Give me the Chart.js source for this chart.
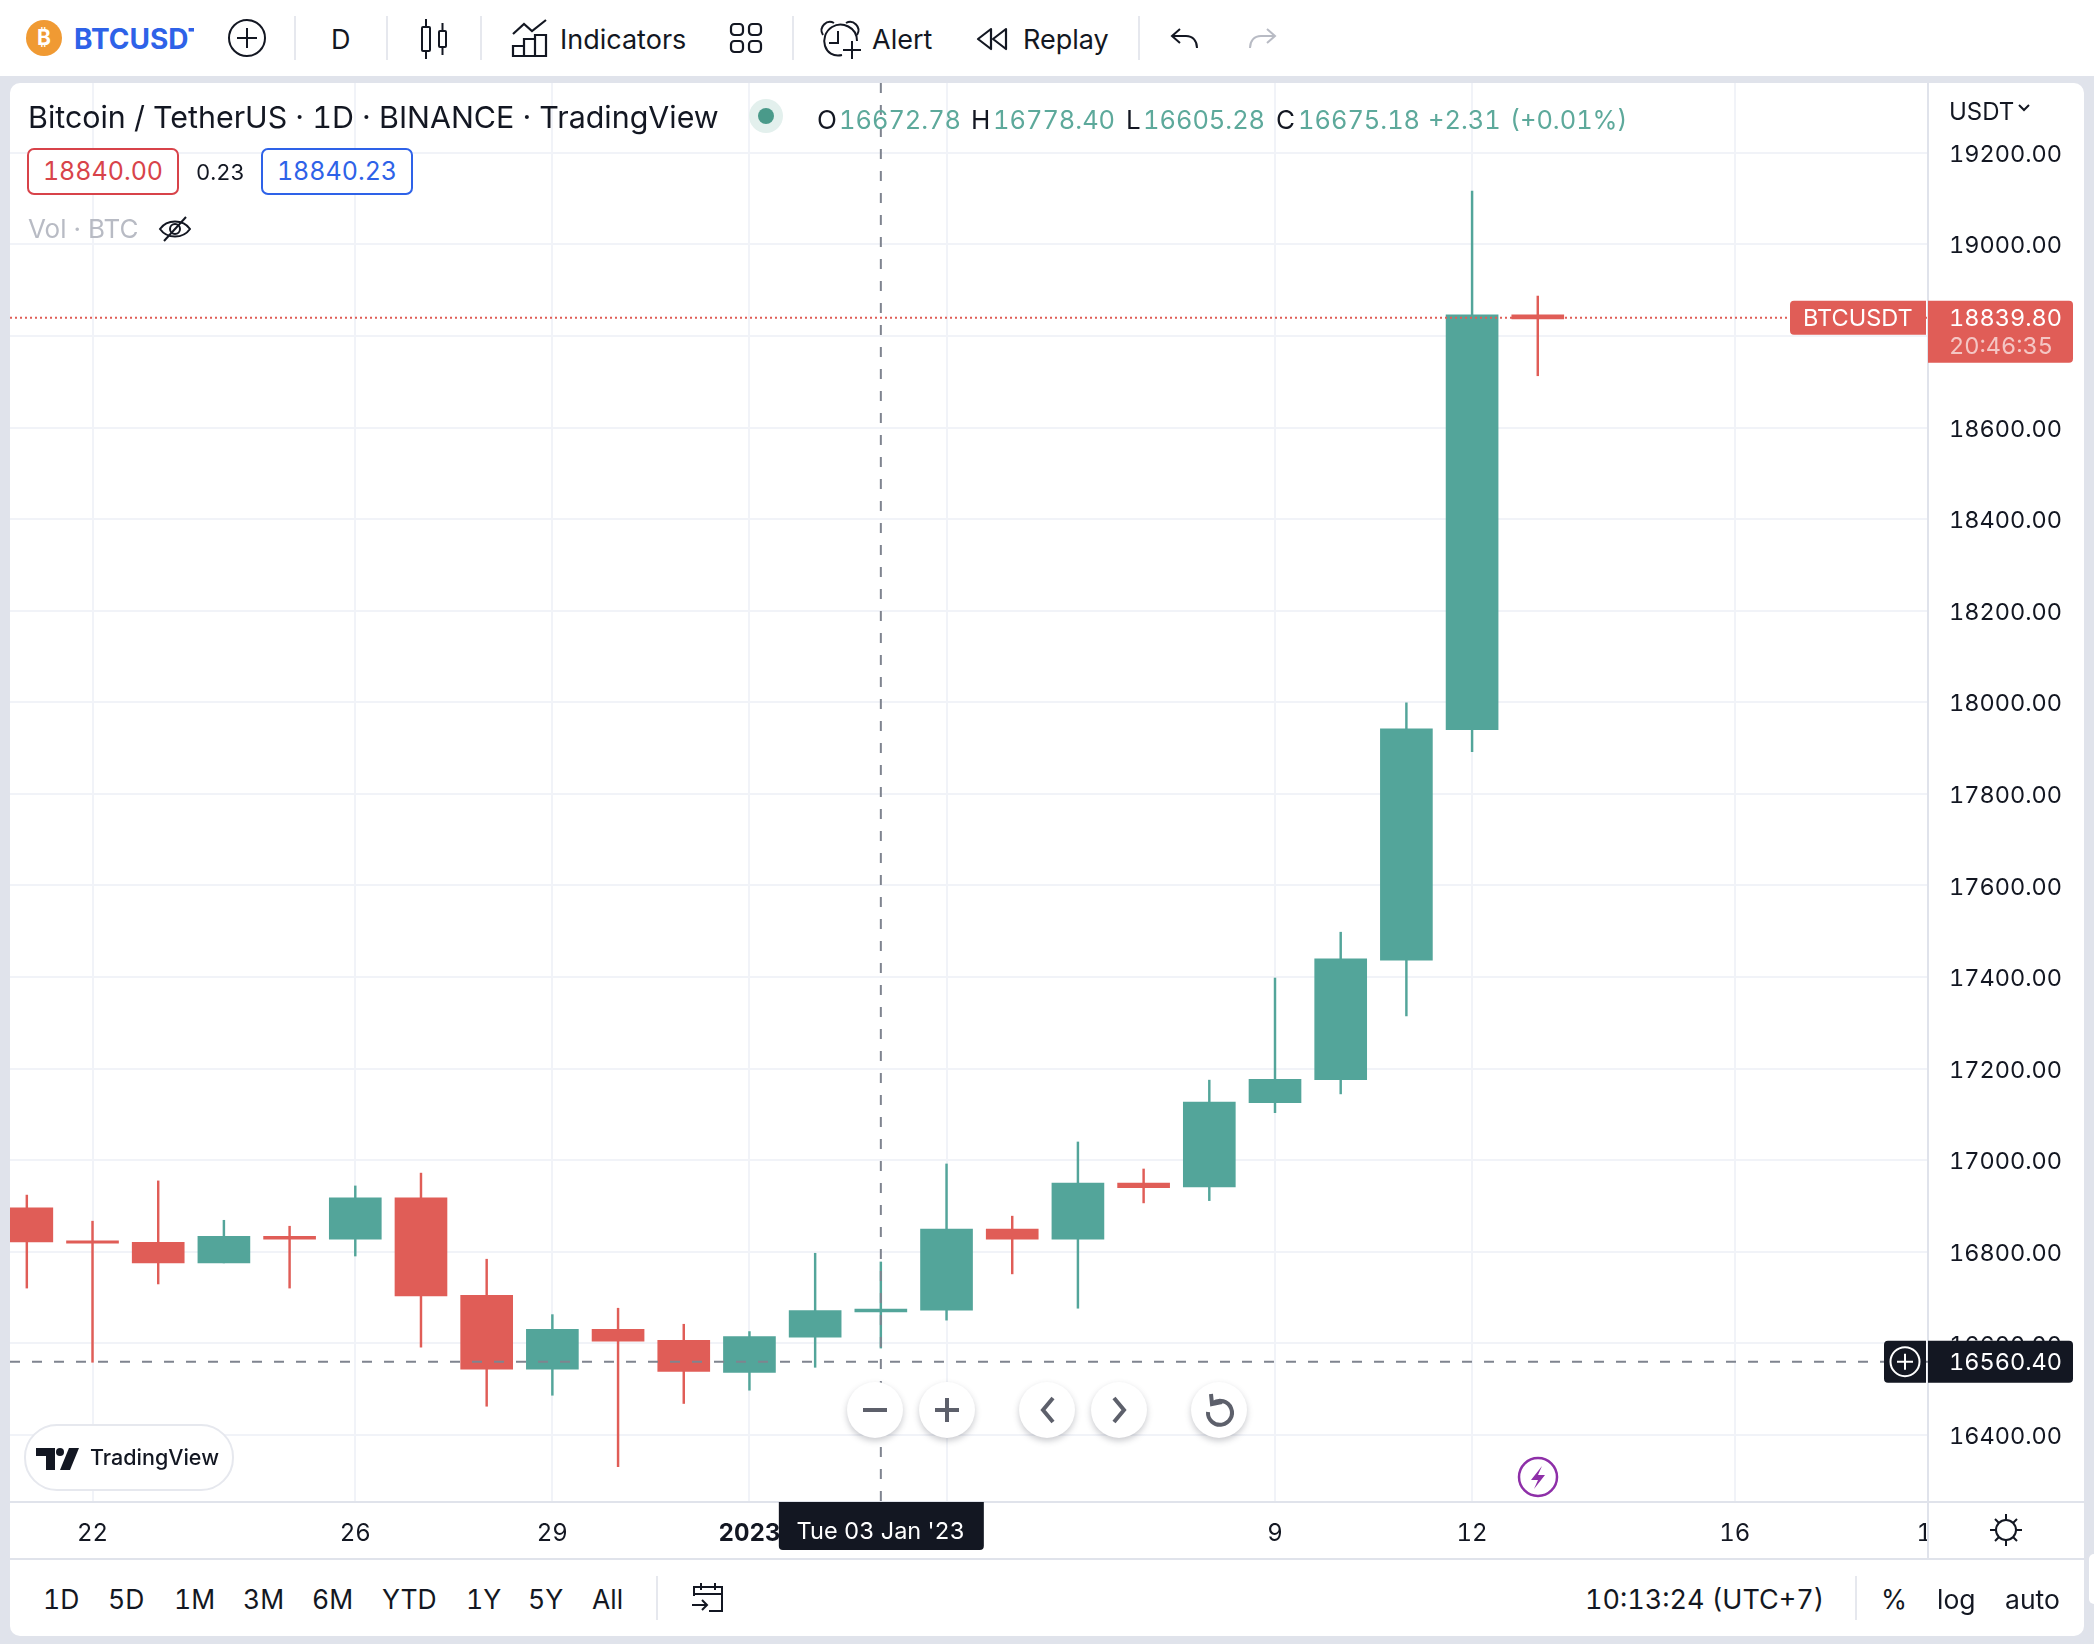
<!DOCTYPE html>
<html>
<head>
<meta charset="utf-8">
<title>BTCUSDT</title>
<script src="https://cdn.jsdelivr.net/npm/chart.js@4"></script>
<style>
  html, body { margin: 0; padding: 0; width: 2094px; height: 1646px; overflow: hidden; background: #fff; font-family: Inter, sans-serif; color: #131722; font-variant-numeric: tabular-nums; }
  #band { position: absolute; left: 0; top: 76px; width: 2094px; height: 1568px; background: #e0e3eb; }
  #panel { position: absolute; left: 10px; top: 83px; width: 2074px; height: 1553px; background: #fff; border-radius: 10px; overflow: hidden; }
  #panel canvas { position: absolute; left: 0; top: 0; }
  .t { position: absolute; transform: translateY(-50%); white-space: nowrap; line-height: 1; }
  .tool { font-size: 27px; }
  .sep { position: absolute; width: 2px; background: #e6e8ee; }
  .range { font-size: 26.5px; }
  .ohlc { font-size: 25.4px; color: #5da99b; }
  .ohlc-k { font-size: 26px; color: #131722; }
  .box { position: absolute; box-sizing: border-box; height: 47px; top: 148px; border: 2px solid; border-radius: 7px; font-size: 25px; line-height: 43px; text-align: center; background: #fff; }
  svg { position: absolute; overflow: visible; }
  .btn { position: absolute; width: 56px; height: 56px; top: 1382px; border-radius: 50%; background: #fff; box-shadow: 0 3px 6px rgba(60,65,80,.28); }
</style>
</head>
<body>
<div id="band"></div>
<div id="panel">
  <canvas id="myChart" width="2074" height="1475"></canvas>
</div>

<!-- top toolbar -->
<svg style="left:26px;top:20px" width="36" height="36"><circle cx="18" cy="18" r="18" fill="#f09a33"/><text x="18" y="25" font-family="Inter" font-weight="700" font-size="21" fill="#fff" text-anchor="middle">₿</text></svg>
<div class="t" style="left:74px;top:39px;width:120px;overflow:hidden;font-size:28px;font-weight:700;color:#2e62e8;height:34px;line-height:34px">BTCUSDT</div>
<svg style="left:228px;top:19px" width="38" height="38" fill="none" stroke="#131722" stroke-width="2"><circle cx="19" cy="19" r="18"/><path d="M19 9v20M9 19h20"/></svg>
<div class="sep" style="left:294px;top:16px;height:44px"></div>
<div class="t tool" style="left:331px;top:39px">D</div>
<div class="sep" style="left:386px;top:16px;height:44px"></div>
<svg style="left:420px;top:18px" width="30" height="42" fill="none" stroke="#131722" stroke-width="2"><rect x="2" y="9" width="8" height="24" rx="1"/><path d="M6 1v8M6 33v8"/><rect x="19" y="13" width="7" height="16" rx="1"/><path d="M22.5 5v8M22.5 29v8"/></svg>
<div class="sep" style="left:480px;top:16px;height:44px"></div>
<svg style="left:512px;top:19px" width="36" height="38" fill="none" stroke="#131722" stroke-width="2.2"><path d="M1 15L12 5l8 7L34 1"/><path d="M1 37V27h11v10zM12 37V20h11v17zM23 37V16h11v21z"/></svg>
<div class="t tool" style="left:560px;top:39px">Indicators</div>
<svg style="left:730px;top:23px" width="32" height="30" fill="none" stroke="#131722" stroke-width="2.2"><rect x="1" y="1" width="12" height="11" rx="3.5"/><rect x="19" y="1" width="12" height="11" rx="3.5"/><rect x="1" y="18" width="12" height="11" rx="3.5"/><rect x="19" y="18" width="12" height="11" rx="3.5"/></svg>
<div class="sep" style="left:792px;top:16px;height:44px"></div>
<svg style="left:820px;top:20px" width="42" height="40" fill="none" stroke="#131722" stroke-width="2"><path d="M3 15C-2 7 7-1 14 3"/><path d="M37 15C42 7 33-1 26 3"/><path d="M22 35C4 39-2 16 12 7c10-6 25 0 25 14"/><path d="M18 11v12H9"/><path d="M32 21v18M23 30h18"/></svg>
<div class="t tool" style="left:872px;top:39px">Alert</div>
<svg style="left:976px;top:27px" width="32" height="24" fill="none" stroke="#131722" stroke-width="2.2" stroke-linejoin="round"><path d="M15 2L2 12l13 10z"/><path d="M30 2L17 12l13 10z"/></svg>
<div class="t tool" style="left:1023px;top:39px">Replay</div>
<div class="sep" style="left:1138px;top:16px;height:44px"></div>
<svg style="left:1171px;top:28px" width="28" height="20" fill="none" stroke="#131722" stroke-width="2"><path d="M9 1L1 8l8 7"/><path d="M1 8h14c7 0 11 5 11 12"/></svg>
<svg style="left:1248px;top:28px" width="28" height="20" fill="none" stroke="#b8bbc4" stroke-width="2"><path d="M19 1l8 7-8 7"/><path d="M27 8H13C6 8 2 13 2 20"/></svg>

<!-- legend -->
<div class="t" style="left:28px;top:117px;font-size:30.4px">Bitcoin / TetherUS · 1D · BINANCE · TradingView</div>
<svg style="left:749px;top:99px" width="34" height="34"><circle cx="17" cy="17" r="17" fill="#e3f0ed"/><circle cx="17" cy="17" r="8" fill="#4a9a8a"/></svg>
<div class="t ohlc-k" style="left:817px;top:120px">O</div><div class="t ohlc" style="left:839px;top:120px">16672.78</div>
<div class="t ohlc-k" style="left:971px;top:120px">H</div><div class="t ohlc" style="left:993px;top:120px">16778.40</div>
<div class="t ohlc-k" style="left:1126px;top:120px">L</div><div class="t ohlc" style="left:1143px;top:120px">16605.28</div>
<div class="t ohlc-k" style="left:1276px;top:120px">C</div><div class="t ohlc" style="left:1298px;top:120px">16675.18</div>
<div class="t ohlc" style="left:1428px;top:120px">+2.31</div><div class="t ohlc" style="left:1510px;top:120px">(+0.01%)</div>
<div class="box" style="left:27px;width:152px;border-color:#d8434a;color:#d8434a">18840.00</div>
<div class="t" style="left:196px;top:172px;font-size:22px">0.23</div>
<div class="box" style="left:261px;width:152px;border-color:#2e62e8;color:#2e62e8">18840.23</div>
<div class="t" style="left:28px;top:229px;font-size:26px;color:#b8bbc4">Vol · BTC</div>
<svg style="left:159px;top:216px" width="32" height="26" fill="none" stroke="#131722" stroke-width="2"><path d="M1 13C8 3 24 3 31 13C24 23 8 23 1 13z"/><circle cx="16" cy="13" r="5"/><path d="M27 1L5 25"/></svg>
<div class="t" style="left:1949px;top:112px;font-size:24px">USDT</div>
<svg style="left:2018px;top:104px" width="12" height="8" fill="none" stroke="#131722" stroke-width="2"><path d="M1 1l5 5 5-5"/></svg>

<!-- chart controls -->
<div class="btn" style="left:847px"></div><div class="btn" style="left:919px"></div>
<div class="btn" style="left:1019px"></div><div class="btn" style="left:1091px"></div>
<div class="btn" style="left:1191px"></div>
<svg style="left:847px;top:1382px" width="430" height="56" fill="none" stroke="#5d606b" stroke-width="4">
  <path d="M16 28h24"/><path d="M88 28h24M100 16v24"/>
  <path d="M206 16l-10 12 10 12"/><path d="M267 16l10 12-10 12"/>
  <path d="M366 21a12 12 0 1 1 -5 9M364 12l1 10 10 -2"/>
</svg>
<svg style="left:24px;top:1424px" width="210" height="67"><rect x="1" y="1" width="208" height="65" rx="32" fill="#fff" stroke="#e6e8ee" stroke-width="2"/><path d="M12 24h19v22h-9V32H12z" fill="#131722"/><circle cx="36" cy="28" r="4" fill="#131722"/><path d="M36 46l9-22h10l-9 22z" fill="#131722"/></svg>
<div class="t" style="left:90px;top:1458px;font-size:21.5px;font-weight:500">TradingView</div>
<svg style="left:1518px;top:1457px" width="40" height="40" fill="none"><circle cx="20" cy="20" r="19" stroke="#8e2fa8" stroke-width="2.5"/><path d="M24 9L13 23h7l-4 9 11-14h-7z" fill="#8e2fa8"/></svg>
<svg style="left:1989px;top:1513px" width="34" height="34" fill="none" stroke="#131722" stroke-width="2"><circle cx="17" cy="17" r="10"/><path d="M17 1v6M17 27v6M1 17h6M27 17h6M6 6l4 4M28 6l-4 4M6 28l4-4M28 28l-4-4"/></svg>

<!-- bottom bar -->
<div style="position:absolute;left:10px;top:1558px;width:2074px;height:2px;background:#e0e3eb"></div>
<div class="t range" style="left:43px;top:1599px">1D</div>
<div class="t range" style="left:108px;top:1599px">5D</div>
<div class="t range" style="left:174px;top:1599px">1M</div>
<div class="t range" style="left:243px;top:1599px">3M</div>
<div class="t range" style="left:312px;top:1599px">6M</div>
<div class="t range" style="left:382px;top:1599px">YTD</div>
<div class="t range" style="left:466px;top:1599px">1Y</div>
<div class="t range" style="left:528px;top:1599px">5Y</div>
<div class="t range" style="left:592px;top:1599px">All</div>
<div class="sep" style="left:656px;top:1576px;height:44px"></div>
<svg style="left:691px;top:1582px" width="34" height="32" fill="none" stroke="#131722" stroke-width="2"><path d="M3 14V5h28v24H18M3 12h28M10 1v7M24 1v7M1 23h15M11 18l5 5-5 5"/></svg>
<div class="t" style="left:1585px;top:1599px;font-size:27px">10:13:24 (UTC+7)</div>
<div class="sep" style="left:1855px;top:1576px;height:44px"></div>
<div class="t range" style="left:1881px;top:1599px">%</div>
<div class="t range" style="left:1937px;top:1599px">log</div>
<div class="t range" style="left:2005px;top:1599px">auto</div>
<div style="position:absolute;left:2089px;top:1554px;width:5px;height:50px;background:#fff;border-radius:5px 0 0 5px"></div>
<div style="position:absolute;left:0;top:1644px;width:2094px;height:2px;background:#fff"></div>

<script>
Chart.defaults.font.family = 'Inter';
Chart.defaults.color = '#131722';

// one candle per day, 21 Dec '22 to 13 Jan '23
const days = ['21','22','23','24','25','26','27','28','29','30','31','1','2','3','4','5','6','7','8','9','10','11','12','13'];
const opens = [16896,16824,16821,16776,16834,16828,16918,16705,16544,16631,16607,16537,16614,16669,16673,16850,16828,16950,16942,17126,17176,17437,17940,18846];
const highs = [16924,16867,16955,16869,16856,16944,16972,16784,16663,16677,16642,16626,16797,16778,16992,16878,17040,16981,17175,17398,17498,17999,19116,18887];
const lows = [16721,16559,16730,16776,16721,16791,16592,16463,16487,16331,16469,16498,16548,16590,16651,16752,16677,16907,16912,17104,17145,17315,17892,18713];
const closes = [16822,16819,16776,16834,16828,16918,16704,16544,16631,16605,16539,16615,16672,16675,16850,16828,16950,16940,17127,17177,17440,17942,18846,18837];

const priceTicks = [16400,16600,16800,17000,17200,17400,17600,17800,18000,18200,18400,18600,18800,19000,19200];
const timeTicks = [1,5,8,11,14,19,22,26,29];
const timeLabels = ['22','26','29','2023','4','9','12','16','19'];

const lastPrice = 18839.80;
const crossPrice = 16560.40;
const crossDay = 13;

const UP = '#53a59a';
const DOWN = '#e05d57';
const DARK = '#131722';
const candleColor = (ctx) => closes[ctx.dataIndex] >= opens[ctx.dataIndex] ? UP : DOWN;

const wickData = days.map((d, i) => ({ x: i, y: [lows[i], highs[i]] }));
const bodyData = days.map((d, i) => ({ x: i, y: [Math.min(opens[i], closes[i]), Math.max(opens[i], closes[i])] }));

function roundBox(ctx, x, y, w, h, r, color) {
  ctx.fillStyle = color;
  ctx.beginPath();
  ctx.roundRect(x, y, w, h, r);
  ctx.fill();
}

function priceText(ctx, text, x, y, color) {
  ctx.fillStyle = color;
  ctx.font = '23.5px Inter';
  ctx.textAlign = 'left';
  ctx.textBaseline = 'middle';
  ctx.fillText(text, x, y);
}

function noPadding(scale) {
  scale.paddingTop = 0;
  scale.paddingBottom = 0;
  scale.paddingLeft = 0;
  scale.paddingRight = 0;
}

const overlay = {
  id: 'overlay',
  afterDraw(chart) {
    const { ctx, chartArea: a, scales } = chart;
    const lastY = scales.y.getPixelForValue(lastPrice);
    const crossY = scales.y.getPixelForValue(crossPrice);
    const crossX = scales.x.getPixelForValue(crossDay);
    ctx.save();

    // covers the part of the time axis that runs under the price axis
    ctx.fillStyle = '#fff';
    ctx.fillRect(a.right, a.bottom, chart.width - a.right, chart.height - a.bottom);

    ctx.strokeStyle = '#e0e3eb';
    ctx.lineWidth = 2;
    ctx.beginPath();
    ctx.moveTo(0, a.bottom); ctx.lineTo(chart.width, a.bottom);
    ctx.moveTo(a.right, 0); ctx.lineTo(a.right, chart.height);
    ctx.stroke();

    ctx.strokeStyle = DOWN;
    ctx.lineWidth = 2;
    ctx.setLineDash([2, 3]);
    ctx.beginPath();
    ctx.moveTo(a.left, lastY); ctx.lineTo(a.right, lastY);
    ctx.stroke();

    ctx.strokeStyle = '#7f848f';
    ctx.lineWidth = 2;
    ctx.setLineDash([10, 12]);
    ctx.beginPath();
    ctx.moveTo(a.left, crossY); ctx.lineTo(a.right, crossY);
    ctx.moveTo(crossX, a.top); ctx.lineTo(crossX, a.bottom);
    ctx.stroke();
    ctx.setLineDash([]);

    // last price labels
    roundBox(ctx, a.right - 138, lastY - 17, 136, 34, [4, 0, 0, 4], DOWN);
    roundBox(ctx, a.right, lastY - 17, 145, 62, [0, 4, 4, 0], DOWN);
    priceText(ctx, 'BTCUSDT', a.right - 125, lastY + 1, '#fff');
    priceText(ctx, lastPrice.toFixed(2), a.right + 21, lastY + 1, '#fff');
    priceText(ctx, '20:46:35', a.right + 21, lastY + 29, 'rgba(255,255,255,.65)');

    // crosshair labels
    roundBox(ctx, a.right - 44, crossY - 21, 42, 42, [4, 0, 0, 4], DARK);
    roundBox(ctx, a.right, crossY - 21, 145, 42, [0, 4, 4, 0], DARK);
    priceText(ctx, crossPrice.toFixed(2), a.right + 21, crossY + 1, '#fff');
    ctx.strokeStyle = '#fff';
    ctx.beginPath();
    ctx.arc(a.right - 23, crossY, 14.5, 0, Math.PI * 2);
    ctx.moveTo(a.right - 31, crossY); ctx.lineTo(a.right - 15, crossY);
    ctx.moveTo(a.right - 23, crossY - 8); ctx.lineTo(a.right - 23, crossY + 8);
    ctx.stroke();

    roundBox(ctx, crossX - 102, a.bottom, 205, 48, [0, 0, 4, 4], DARK);
    ctx.fillStyle = '#fff';
    ctx.font = '23.5px Inter';
    ctx.textAlign = 'center';
    ctx.textBaseline = 'middle';
    ctx.fillText("Tue 03 Jan '23", crossX, a.bottom + 30);
    ctx.restore();
  }
};

new Chart(document.getElementById('myChart'), {
  type: 'bar',
  data: {
    datasets: [{
      label: 'Body',
      data: bodyData,
      backgroundColor: candleColor,
      barThickness: 52,
      borderWidth: 0,
      grouped: false,
      order: 1
    }, {
      label: 'Wick',
      data: wickData,
      backgroundColor: candleColor,
      barThickness: 1.8,
      borderWidth: 0,
      grouped: false,
      order: 2
    }]
  },
  plugins: [overlay],
  options: {
    responsive: false,
    animation: false,
    devicePixelRatio: 1,
    layout: { padding: 0, autoPadding: false },
    plugins: { legend: { display: false }, tooltip: { enabled: false }, title: { display: false } },
    scales: {
      x: {
        type: 'linear',
        offset: false,
        min: -0.256,
        max: 28.94,
        afterBuildTicks: (scale) => { scale.ticks = timeTicks.map((v) => ({ value: v })); },
        afterFit: (scale) => { scale.height = 56; noPadding(scale); },
        grid: {
          offset: false,
          color: (ctx) => ctx.tick && ctx.tick.value > 28 ? 'transparent' : '#f1f3f8',
          lineWidth: 2,
          drawTicks: false
        },
        border: { display: false },
        ticks: {
          autoSkip: false,
          maxRotation: 0,
          padding: 17,
          font: (ctx) => ctx.tick && ctx.tick.value === 11 ? { size: 24, weight: '700' } : { size: 24 },
          callback: (v) => timeLabels[timeTicks.indexOf(v)]
        }
      },
      y: {
        position: 'right',
        min: 16253.9,
        max: 19352.2,
        afterBuildTicks: (scale) => { scale.ticks = priceTicks.map((v) => ({ value: v })); },
        afterFit: (scale) => { scale.width = 156; noPadding(scale); },
        grid: { color: '#f1f3f8', lineWidth: 2, drawTicks: false },
        border: { display: false },
        ticks: {
          padding: 21,
          labelOffset: 2,
          font: { size: 23.5 },
          callback: (v) => v.toFixed(2)
        }
      }
    }
  }
});
</script>
</body>
</html>
